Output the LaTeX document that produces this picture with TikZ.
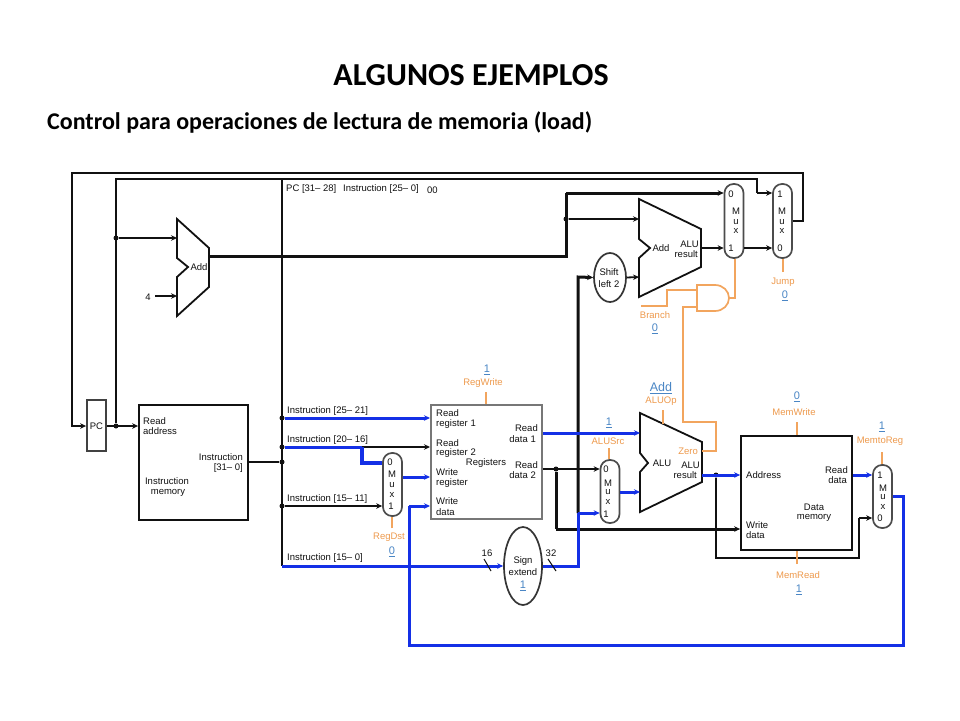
\documentclass[tikz,border=0pt]{standalone}
\usepackage{fontspec}
\setmainfont{Liberation Sans}
\newfontfamily\calib{Carlito}
\usetikzlibrary{arrows.meta,shapes.geometric}
\definecolor{ctrlor}{HTML}{F2A55E}
\definecolor{ctrltx}{HTML}{EE9A4D}
\definecolor{valblue}{HTML}{4A86C5}
\definecolor{busblue}{HTML}{1430E6}
\definecolor{inkk}{HTML}{111111}
\definecolor{boxgray}{HTML}{777777}
\tikzset{
 tip/.style={-{Stealth[length=6pt,width=5.5pt]}},
 wire/.style={draw=inkk,line width=1.8pt,line join=miter},
 heavy/.style={draw=inkk,line width=3pt,line join=miter},
 bus/.style={draw=busblue,line width=3pt,line join=miter},
 ctl/.style={draw=ctrlor,line width=1.7pt,line join=miter},
 block/.style={draw=inkk,line width=1.8pt,rectangle,inner sep=0pt,fill=white},
 muxn/.style={draw=inkk!75,line width=1.7pt,rectangle,rounded corners=9pt,minimum width=19pt,inner sep=0pt,fill=white},
 oval/.style={draw=inkk!85,line width=1.7pt,ellipse,inner sep=0pt,fill=white},
 jn/.style={circle,fill=inkk,inner sep=0pt,minimum size=5pt},
 tx/.style={inner sep=0pt,text=inkk,font=\fontsize{9.5}{10}\selectfont},
 txl/.style={tx,anchor=west},
 txr/.style={tx,anchor=east},
 cname/.style={inner sep=0pt,text=ctrltx,font=\fontsize{9.5}{10}\selectfont},
 cval/.style={inner sep=0pt,text=valblue,font=\fontsize{11}{12}\selectfont},
 alu/.style={draw=inkk,line width=1.8pt,line join=miter,fill=white},
}
\begin{document}
\begin{tikzpicture}[x=1pt,y=-1pt]
\useasboundingbox[fill=white] (0,0) rectangle (960,720);
% titles
\node[inner sep=0pt,font=\calib\bfseries\fontsize{32}{34}\selectfont] (title) at (471,75) {ALGUNOS EJEMPLOS};
\node[inner sep=0pt,anchor=west,font=\calib\bfseries\fontsize{24}{26}\selectfont] (subtitle) at (47,122) {Control para operaciones de lectura de memoria (load)};
% blocks
\node[block,minimum width=19pt,minimum height=51pt,draw=inkk!80] (pc) at (96.5,425.5) {};
\node[block,minimum width=109pt,minimum height=115pt] (imem) at (193.5,462.5) {};
\node[block,draw=boxgray,minimum width=111pt,minimum height=114pt,line width=2pt] (regs) at (486.5,462) {};
\node[block,minimum width=111pt,minimum height=114pt] (dmem) at (796.5,493) {};
\node[muxn,minimum height=63pt] (muxdst) at (392.5,484.5) {};
\node[muxn,minimum height=63pt] (muxsrc) at (610,491.5) {};
\node[muxn,minimum height=63pt] (muxmem) at (882.5,496.5) {};
\node[muxn,minimum height=74pt] (muxa) at (734,221) {};
\node[muxn,minimum height=74pt] (muxb) at (782.5,221) {};
\node[oval,minimum width=38pt,minimum height=78pt] (sign) at (523,566) {};
\node[oval,minimum width=32pt,minimum height=49pt] (shift) at (610,277.5) {};
% adders / ALU
\draw[alu] (177,219) -- (209,248) -- (209,287) -- (177,316) -- (177,277) -- (188,267) -- (177,258) -- cycle;
\draw[alu] (639,199) -- (701,229) -- (701,267) -- (639,297) -- (639,258) -- (650,248) -- (639,239) -- cycle;
\draw[alu] (640,413) -- (702,442) -- (702,482) -- (640,512) -- (640,472) -- (648,463) -- (640,453) -- cycle;
% AND gate
\draw[ctl] (697,285) -- (715,285) .. controls (723,285) and (729,291) .. (729,298) .. controls (729,305) and (723,311) .. (715,311) -- (697,311) -- cycle;
% ports and bends
\coordinate (pcin) at (pc.west |- 0,426);
\coordinate (pcout) at (pc.east |- 0,426);
\coordinate (imin) at (imem.west |- 0,426);
\coordinate (imout) at (imem.east |- 0,462);
\coordinate (addAin1) at (177,238);
\coordinate (addAin2) at (177,296);
\coordinate (addAout) at (209,256);
\coordinate (addBin1) at (639,219);
\coordinate (addBin2) at (639,277);
\coordinate (addBout) at (701,248);
\coordinate (aluin1) at (640,433);
\coordinate (aluin2) at (640,492);
\coordinate (aluout) at (702,475);
\coordinate (aluzero) at (702,451);
\coordinate (four) at (155,296);
\coordinate (backR) at (803,221);
\coordinate (backTR) at (803,173);
\coordinate (backTL) at (72,173);
\coordinate (backBL) at (72,426);
\coordinate (topL) at (116,179);
\coordinate (topR) at (757,179);
\coordinate (topD) at (757,193);
\coordinate (brTop) at (282,179);
\coordinate (brBot) at (282,566);
\coordinate (addUp) at (566,256);
\coordinate (addTop) at (566,193);
\coordinate (sTop) at (578,277);
\coordinate (sBot) at (578,513);
\coordinate (sExt) at (578,566);
\coordinate (rdTwoD) at (556,529);
\coordinate (dstA) at (362,447);
\coordinate (dstB) at (362,463);
\coordinate (wdUp) at (409,506);
\coordinate (wdBL) at (409,645);
\coordinate (wdBR) at (903,645);
\coordinate (wdTR) at (903,496);
\coordinate (bypD) at (716,558);
\coordinate (bypR) at (859,558);
\coordinate (bypU) at (859,518);
% junctions
\node[jn] (j1) at (116,426) {};
\node[jn] (j2) at (116,238) {};
\node[jn] (j3) at (282,418) {};
\node[jn] (j4) at (282,447) {};
\node[jn] (j5) at (282,462) {};
\node[jn] (j6) at (282,506) {};
\node[jn] (j8) at (566,219) {};
\node[jn] (j9) at (556,469) {};
\node[jn] (j10) at (716,475) {};
% black wires
\draw[wire,tip] (muxb.east |- backR) -- (backR) -- (backTR) -- (backTL) -- (backBL) -- (pcin);
\draw[wire,tip] (pcout) -- (imin);
\draw[wire] (j1) -- (topL) -- (topR) -- (topD);
\draw[wire,tip] (topD) -- (muxb.west |- topD);
\draw[wire,tip] (j2) -- (addAin1);
\draw[wire,tip] (four) -- (addAin2);
\draw[wire] (imout) -- (j5);
\draw[wire] (brTop) -- (brBot);
\draw[heavy] (addAout) -- (addUp) -- (addTop);
\draw[heavy,tip] (addTop) -- (muxa.west |- addTop);
\draw[wire,tip] (j8) -- (addBin1);
\draw[wire,tip] (addBout) -- (muxa.west |- addBout);
\draw[wire,tip] (muxa.east |- addBout) -- (muxb.west |- addBout);
\draw[wire,tip] (shift.east) -- (addBin2);
\draw[heavy,tip] (sBot) -- (sTop) -- (shift.west);
\draw[wire,tip] (dstA) -- (regs.west |- dstA);
\draw[wire,tip] (j6) -- (muxdst.west |- j6);
\draw[wire,tip] (regs.east |- j9) -- (muxsrc.west |- j9);
\draw[heavy] (j9) -- (rdTwoD);
\draw[heavy,tip] (rdTwoD) -- (dmem.west |- rdTwoD);
\draw[wire] (j10) -- (bypD) -- (bypR) -- (bypU);
\draw[wire,tip] (bypU) -- (muxmem.west |- bypU);
% blue buses
\draw[bus,tip] (j3) -- (regs.west |- j3);
\draw[bus] (j4) -- (dstA);
\draw[bus,line width=4.5pt] (dstA) -- (dstB) -- (muxdst.west |- dstB);
\draw[bus,tip] (muxdst.east |- 0,477) -- (regs.west |- 0,477);
\draw[bus,tip] (brBot) -- (sign.west);
\draw[bus] (sign.east) -- (sExt) -- (sBot);
\draw[bus,tip] (sBot) -- (muxsrc.west |- sBot);
\draw[bus,tip] (regs.east |- aluin1) -- (aluin1);
\draw[bus,tip] (muxsrc.east |- aluin2) -- (aluin2);
\draw[bus,tip] (aluout) -- (dmem.west |- aluout);
\draw[bus,tip] (dmem.east |- aluout) -- (muxmem.west |- aluout);
\draw[bus] (muxmem.east |- wdTR) -- (wdTR) -- (wdBR) -- (wdBL) -- (wdUp);
\draw[bus,tip] (wdUp) -- (regs.west |- wdUp);
% slashes
\draw[draw=inkk,line width=1pt] (484,559) -- (491,571);
\draw[draw=inkk,line width=1pt] (548,559) -- (556,571);
% control wires
\coordinate (rwTop) at (486,392);
\coordinate (aoTop) at (663,410);
\coordinate (aoBot) at (663,424);
\coordinate (msTop) at (609,448);
\coordinate (mwTop) at (797,422);
\coordinate (mrBot) at (797,564);
\coordinate (m2rTop) at (882,452);
\coordinate (jmpBot) at (783,272);
\coordinate (rdBot) at (392,528);
\coordinate (andOut) at (729,298);
\coordinate (andIn1) at (697,290);
\coordinate (andIn2) at (697,307);
\coordinate (brL) at (641,306);
\draw[ctl] (rwTop) -- (regs.north -| rwTop);
\draw[ctl] (aoTop) -- (aoBot);
\draw[ctl] (msTop) -- (muxsrc.north -| msTop);
\draw[ctl] (mwTop) -- (dmem.north -| mwTop);
\draw[ctl] (mrBot) -- (dmem.south -| mrBot);
\draw[ctl] (m2rTop) -- (muxmem.north -| m2rTop);
\draw[ctl] (jmpBot) -- (muxb.south -| jmpBot);
\draw[ctl] (rdBot) -- (muxdst.south -| rdBot);
\draw[ctl] (andOut) -- (735,298) -- (muxa.south -| 735,0);
\draw[ctl] (brL) -- (667,306) -- (667,290) -- (andIn1);
\draw[ctl] (aluzero) -- (716,451) -- (716,422) -- (683,422) -- (683,307) -- (andIn2);
% datapath labels
\node[tx] (tPC) at (96.5,426) {PC};
\node[txl] (t1) at (143,421) {Read};
\node[txl] (t2) at (143,431) {address};
\node[txr] (t3) at (243,457) {Instruction};
\node[txr] (t4) at (243,468) {[31– 0]};
\node[tx] (t5) at (167,481) {Instruction};
\node[tx] (t6) at (168,493) {memory};
\node[txl] (t7) at (286,189) {PC [31– 28]};
\node[txl] (t8) at (343,189) {Instruction [25– 0]};
\node[txl] (t9) at (427,190) {00};
\node[txl] (t10) at (287,411) {Instruction [25– 21]};
\node[txl] (t11) at (287,440) {Instruction [20– 16]};
\node[txl] (t12) at (287,499) {Instruction [15– 11]};
\node[txl] (t13) at (287,558) {Instruction [15– 0]};
\node[tx] (t14) at (148,297) {4};
\node[tx] (t15) at (199,267) {Add};
\node[tx] (t16) at (661,248) {Add};
\node[txr] (t17) at (699,244) {ALU};
\node[txr] (t18) at (698,254) {result};
\node[tx] (t19) at (609,272) {Shift};
\node[tx] (t20) at (609,284) {left 2};
\node[txl] (r1) at (436,413) {Read};
\node[txl] (r2) at (436,424) {register 1};
\node[txl] (r3) at (436,443) {Read};
\node[txl] (r4) at (436,453) {register 2};
\node[txl] (r5) at (436,472) {Write};
\node[txl] (r6) at (436,483) {register};
\node[txl] (r7) at (436,501) {Write};
\node[txl] (r8) at (436,512) {data};
\node[txr] (r9) at (538,428) {Read};
\node[txr] (r10) at (536,439) {data 1};
\node[txr] (r11) at (538,465) {Read};
\node[txr] (r12) at (536,475) {data 2};
\node[tx] (r13) at (486,463) {Registers};
\node[tx] (s1) at (523,561) {Sign};
\node[tx] (s2) at (523,572) {extend};
\node[tx] (s3) at (487,553) {16};
\node[tx] (s4) at (551,553) {32};
\node[tx] (a1) at (662,463) {ALU};
\node[txr] (a2) at (700,465) {ALU};
\node[txr] (a3) at (697,475) {result};
\node[txl] (d1) at (746,475) {Address};
\node[txl] (d2) at (746,525) {Write};
\node[txl] (d3) at (746,535) {data};
\node[txr] (d4) at (848,470) {Read};
\node[txr] (d5) at (847,480) {data};
\node[tx] (d6) at (814,507) {Data};
\node[tx] (d7) at (814,518) {memory};
% mux labels
\node[tx] (ma0) at (731,194) {0};
\node[tx] (ma1) at (736,211) {M};
\node[tx] (ma2) at (736,222) {u};
\node[tx] (ma3) at (736,231) {x};
\node[tx] (ma4) at (731,248) {1};
\node[tx] (mb0) at (780,194) {1};
\node[tx] (mb1) at (782,211) {M};
\node[tx] (mb2) at (782,222) {u};
\node[tx] (mb3) at (782,231) {x};
\node[tx] (mb4) at (780,248) {0};
\node[tx] (mc0) at (390,462) {0};
\node[tx] (mc1) at (392,474) {M};
\node[tx] (mc2) at (392,485) {u};
\node[tx] (mc3) at (392,495) {x};
\node[tx] (mc4) at (391,506) {1};
\node[tx] (md0) at (606,469) {0};
\node[tx] (md1) at (608,483) {M};
\node[tx] (md2) at (608,492) {u};
\node[tx] (md3) at (608,502) {x};
\node[tx] (md4) at (606,514) {1};
\node[tx] (me0) at (880,475) {1};
\node[tx] (me1) at (883,488) {M};
\node[tx] (me2) at (883,497) {u};
\node[tx] (me3) at (883,507) {x};
\node[tx] (me4) at (880,518) {0};
% control labels
\node[cname] (c1) at (483,383) {RegWrite};
\node[cname] (c2) at (608,441) {ALUSrc};
\node[cname] (c3) at (389,537) {RegDst};
\node[cname] (c4) at (661,401) {ALUOp};
\node[cname,anchor=east] (c5) at (698,451) {Zero};
\node[cname] (c6) at (794,412) {MemWrite};
\node[cname] (c7) at (798,575) {MemRead};
\node[cname] (c8) at (880,441) {MemtoReg};
\node[cname] (c9) at (783,282) {Jump};
\node[cname] (c10) at (655,315) {Branch};
\node[cval] (v1) at (487,370) {\underline{1}};
\node[cval] (v2) at (609,423) {\underline{1}};
\node[cval] (v3) at (392,552) {\underline{0}};
\node[cval,font=\fontsize{12.5}{13}\selectfont] (v4) at (661,388) {\underline{Add}};
\node[cval] (v5) at (797,397) {\underline{0}};
\node[cval] (v6) at (799,590) {\underline{1}};
\node[cval] (v7) at (882,427) {\underline{1}};
\node[cval] (v8) at (785,296) {\underline{0}};
\node[cval] (v9) at (655,329) {\underline{0}};
\node[cval] (v10) at (523,586) {\underline{1}};
\end{tikzpicture}
\end{document}
